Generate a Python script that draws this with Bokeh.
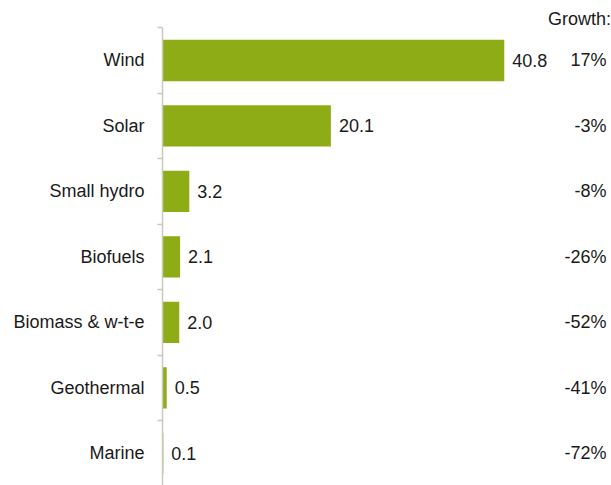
from bokeh.plotting import figure
from bokeh.models import Range1d, FixedTicker, ColumnDataSource, LinearAxis
from bokeh.core.properties import value
from bokeh.embed import file_html
from bokeh.resources import INLINE

categories = ["Wind", "Solar", "Small hydro", "Biofuels", "Biomass & w-t-e", "Geothermal", "Marine"]
values = [40.8, 20.1, 3.2, 2.1, 2.0, 0.5, 0.1]
growth = ["17%", "-3%", "-8%", "-26%", "-52%", "-41%", "-72%"]

n = len(categories)
ypos = [n - 1 - i for i in range(n)]
value_text = ["%.1f" % v for v in values]

FONT = "Liberation Sans"
TXT = "#1a1a1a"
GREEN = "#8EAC16"
AXIS = "#C9C9C0"

p = figure(width=611, height=485, output_backend="svg", toolbar_location=None,
           x_range=Range1d(0, 53.6), y_range=Range1d(-0.489, 6.916),
           min_border_left=162, min_border_right=0, min_border_top=0, min_border_bottom=0,
           x_axis_location=None, y_axis_location=None)
p.outline_line_color = None
p.xgrid.visible = False
p.ygrid.visible = False

src = ColumnDataSource(dict(y=ypos, v=values, vt=value_text, g=growth,
                            gx=[53.0] * n))

p.hbar(y="y", left=0, right="v", height=0.63, source=src, fill_color=GREEN,
       line_color=None)

p.text(x="v", y="y", text="vt", source=src, x_offset=8, text_align="left",
       text_baseline="middle", text_font=value(FONT), text_font_size="18px",
       text_color=TXT)
p.text(x="gx", y="y", text="g", source=src, text_align="right",
       text_baseline="middle", text_font=value(FONT), text_font_size="18px",
       text_color=TXT)
p.text(x=[53.55], y=[6.64], text=["Growth:"], text_align="right",
       text_baseline="middle", text_font=value(FONT), text_font_size="18px",
       text_color=TXT)

ax = LinearAxis(ticker=FixedTicker(ticks=ypos, minor_ticks=[y + 0.5 for y in range(-1, n)]))
ax.major_label_overrides = {y: c for y, c in zip(ypos, categories)}
ax.major_tick_line_color = None
ax.major_tick_out = 0
ax.major_tick_in = 0
ax.minor_tick_out = 5
ax.minor_tick_in = 0
ax.minor_tick_line_color = AXIS
ax.minor_tick_line_width = 1.5
ax.axis_line_color = AXIS
ax.axis_line_width = 1.5
ax.bounds = (-0.7, n - 0.5)
ax.major_label_standoff = 13
ax.major_label_text_font = FONT
ax.major_label_text_font_size = "18px"
ax.major_label_text_color = TXT
p.add_layout(ax, "left")

open("out.html", "w").write(file_html(p, INLINE))
